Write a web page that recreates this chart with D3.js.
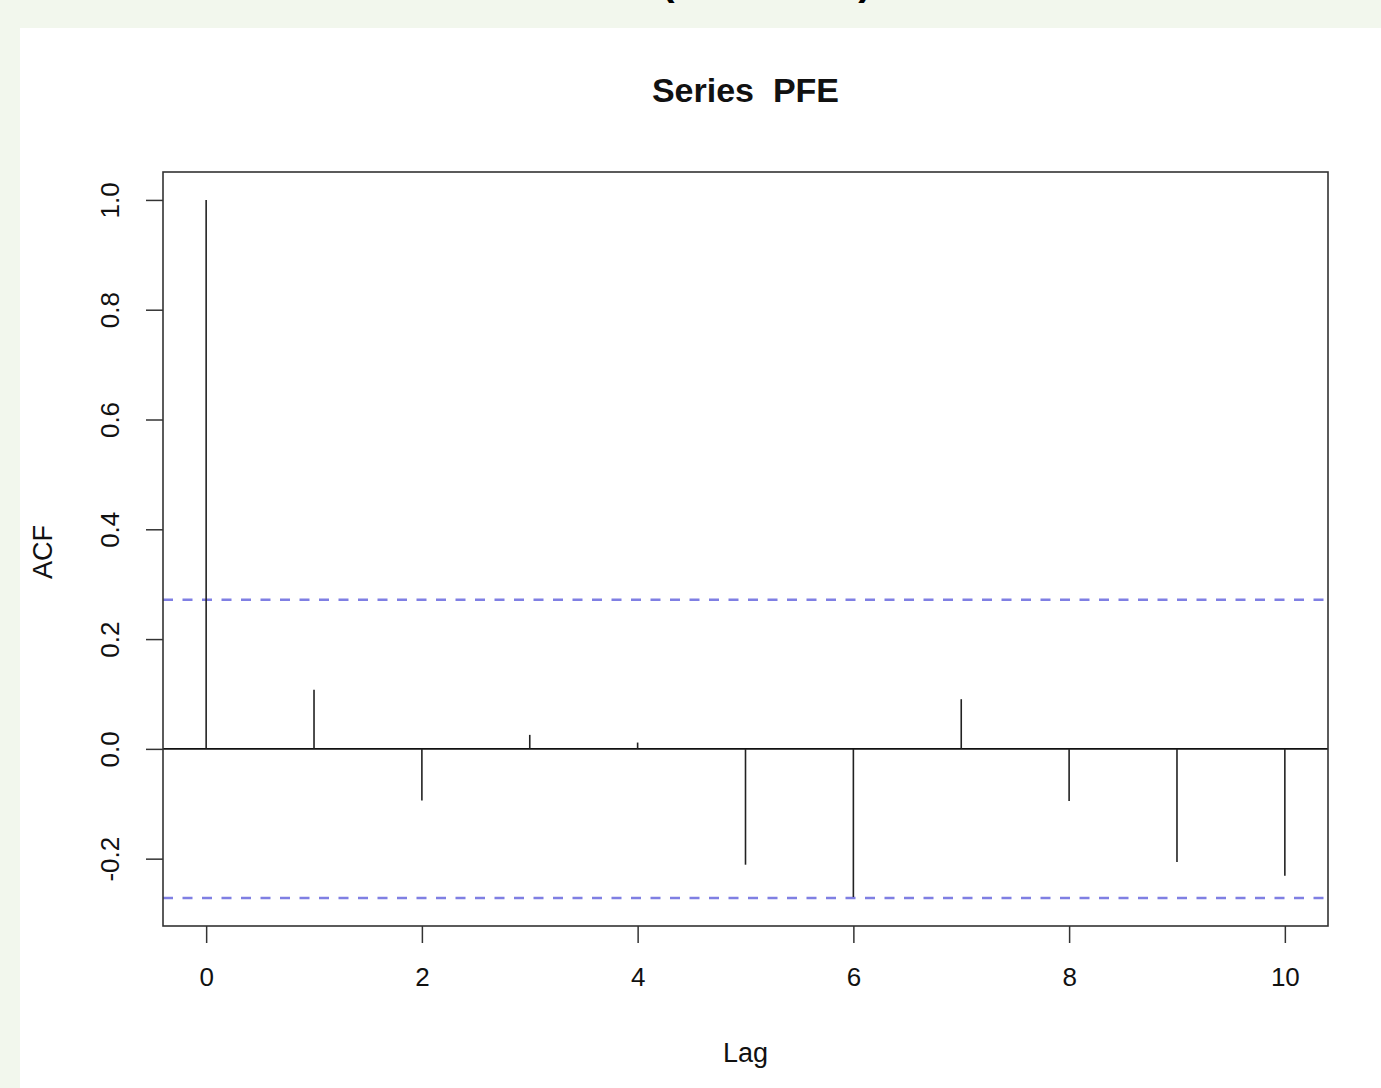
<!DOCTYPE html>
<html>
<head>
<meta charset="utf-8">
<script src="https://cdn.jsdelivr.net/npm/d3@7"></script>
<style>
  body { margin: 0; background: #f2f7ed; }
  svg { display: block; font-family: "Liberation Sans", Arial, Helvetica, sans-serif; }
</style>
</head>
<body>
<div id="chart"></div>
<script>
const lags = [0, 1, 2, 3, 4, 5, 6, 7, 8, 9, 10];
const acfValues = [1.0, 0.1075, -0.094, 0.0255, 0.0115, -0.211, -0.270, 0.0905, -0.095, -0.206, -0.231];
const confLimit = 0.2718;
const xTicks = [0, 2, 4, 6, 8, 10];
const yTicks = [-0.2, 0.0, 0.2, 0.4, 0.6, 0.8, 1.0];

const width = 1381;
const height = 1088;

const box = { left: 163, right: 1328, top: 172, bottom: 926 };

const svg = d3.select("#chart")
  .append("svg")
  .attr("width", width)
  .attr("height", height);

// page background with white panel
svg.append("rect")
  .attr("width", width)
  .attr("height", height)
  .attr("fill", "#f2f7ed");

svg.append("rect")
  .attr("x", 20)
  .attr("y", 28)
  .attr("width", width - 20)
  .attr("height", height - 28)
  .attr("fill", "#ffffff");

// cut-off heading above the panel
svg.append("text")
  .attr("x", 668)
  .attr("y", -5)
  .attr("text-anchor", "middle")
  .style("font-size", "40px")
  .style("font-weight", "bold")
  .text("(");

svg.append("text")
  .attr("x", 865)
  .attr("y", -5)
  .attr("text-anchor", "middle")
  .style("font-size", "40px")
  .style("font-weight", "bold")
  .text(")");

// R style 4% padding of the ranges
const xMin = d3.min(lags), xMax = d3.max(lags);
const xPad = (xMax - xMin) * 0.04;
const yMin = Math.min(d3.min(acfValues), -confLimit);
const yMax = Math.max(d3.max(acfValues), confLimit);
const yPad = (yMax - yMin) * 0.04;

const xScale = d3.scaleLinear()
  .domain([xMin - xPad, xMax + xPad])
  .range([box.left, box.right]);

const yScale = d3.scaleLinear()
  .domain([yMin - yPad, yMax + yPad])
  .range([box.bottom, box.top]);

// X axis
const xAxis = svg.append("g")
  .attr("transform", `translate(0, ${box.bottom})`)
  .call(d3.axisBottom(xScale)
    .tickValues(xTicks)
    .tickSize(17)
    .tickPadding(25)
    .tickFormat(d3.format("d")));

xAxis.select(".domain").remove();
xAxis.selectAll("line").attr("stroke", "#333").attr("stroke-width", 1.5);
xAxis.selectAll("text")
  .style("font-size", "26px")
  .style("font-family", "Liberation Sans, Arial, sans-serif")
  .attr("fill", "#111");

// Y axis
const yAxis = svg.append("g")
  .attr("transform", `translate(${box.left}, 0)`)
  .call(d3.axisLeft(yScale)
    .tickValues(yTicks)
    .tickSize(17)
    .tickFormat(d => d3.format(".1f")(d).replace("−", "-")));

yAxis.select(".domain").remove();
yAxis.selectAll("line").attr("stroke", "#333").attr("stroke-width", 1.5);
yAxis.selectAll("text")
  .attr("x", null)
  .attr("dy", null)
  .attr("transform", "translate(-51, 0) rotate(-90)")
  .attr("text-anchor", "middle")
  .attr("dominant-baseline", "middle")
  .style("font-size", "26px")
  .style("font-family", "Liberation Sans, Arial, sans-serif")
  .attr("fill", "#111");

// confidence limits
[confLimit, -confLimit].forEach(function(c) {
  svg.append("line")
    .attr("x1", box.left)
    .attr("x2", box.right)
    .attr("y1", yScale(c))
    .attr("y2", yScale(c))
    .attr("stroke", "#7f7fe3")
    .attr("stroke-width", 2.5)
    .attr("stroke-dasharray", "10,9.5");
});

// zero line
svg.append("line")
  .attr("x1", box.left)
  .attr("x2", box.right)
  .attr("y1", yScale(0))
  .attr("y2", yScale(0))
  .attr("stroke", "#111")
  .attr("stroke-width", 1.8);

// spikes
svg.selectAll(".spike")
  .data(lags)
  .enter()
  .append("line")
  .attr("class", "spike")
  .attr("x1", d => xScale(d))
  .attr("x2", d => xScale(d))
  .attr("y1", yScale(0))
  .attr("y2", (d, i) => yScale(acfValues[i]))
  .attr("stroke", "#222")
  .attr("stroke-width", 1.6);

// plot box
svg.append("rect")
  .attr("x", box.left)
  .attr("y", box.top)
  .attr("width", box.right - box.left)
  .attr("height", box.bottom - box.top)
  .attr("fill", "none")
  .attr("stroke", "#333")
  .attr("stroke-width", 1.6);

// title
svg.append("text")
  .attr("x", (box.left + box.right) / 2)
  .attr("y", 102)
  .attr("text-anchor", "middle")
  .style("font-size", "34px")
  .style("font-weight", "bold")
  .style("white-space", "pre")
  .attr("fill", "#111")
  .text("Series  PFE");

// axis labels
svg.append("text")
  .attr("x", (box.left + box.right) / 2)
  .attr("y", 1062)
  .attr("text-anchor", "middle")
  .style("font-size", "27px")
  .attr("fill", "#111")
  .text("Lag");

svg.append("text")
  .attr("transform", "translate(52, 552) rotate(-90)")
  .attr("text-anchor", "middle")
  .style("font-size", "27px")
  .attr("fill", "#111")
  .text("ACF");
</script>
</body>
</html>
